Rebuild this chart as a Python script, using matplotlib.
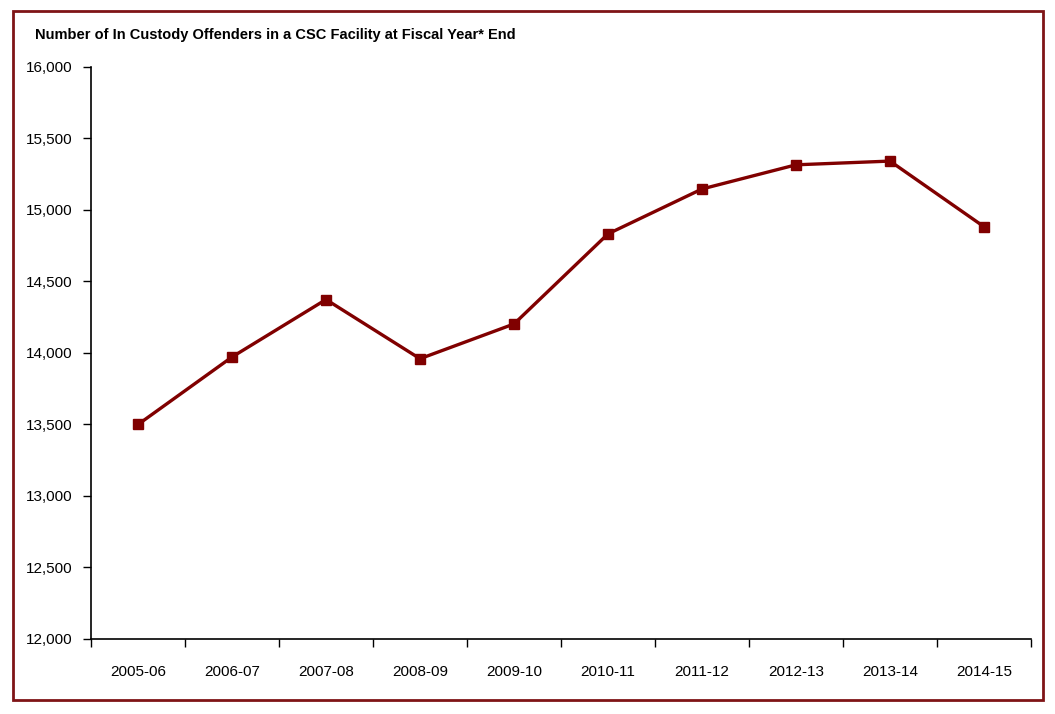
import matplotlib
matplotlib.use("Agg")
import matplotlib.pyplot as plt
from matplotlib.patches import Rectangle
from matplotlib.ticker import FuncFormatter, FixedLocator

plt.rcParams["font.family"] = ["Liberation Sans Narrow", "Liberation Sans", "DejaVu Sans"]

years = ["2005-06", "2006-07", "2007-08", "2008-09", "2009-10",
         "2010-11", "2011-12", "2012-13", "2013-14", "2014-15"]
offenders = [13500, 13972, 14374, 13960, 14203, 14833, 15147, 15316, 15342, 14883]
title = "Number of In Custody Offenders in a CSC Facility at Fiscal Year* End"

red = "#800000"

fig = plt.figure(figsize=(10.55, 7.14), dpi=100)
fig.patches.append(Rectangle((13/1055, 1-700/714), 1030/1055, 689/714,
                             transform=fig.transFigure, fill=False,
                             edgecolor="#7f1416", linewidth=2))
ax = fig.add_axes([91/1055, 1-639/714, 940/1055, 572/714])

x = list(range(len(years)))
ax.plot(x, offenders, color=red, linewidth=2.4, marker="s", markersize=7,
        markerfacecolor=red, markeredgecolor=red)

ax.set_xlim(-0.5, len(years) - 0.5)
ax.set_ylim(12000, 16000)
ax.set_yticks(range(12000, 16001, 500))
ax.yaxis.set_major_formatter(FuncFormatter(lambda v, p: f"{int(v):,}"))
ax.tick_params(axis="y", direction="out", length=6, width=1, labelsize=11, pad=7)

ax.set_xticks(x)
ax.set_xticklabels(years)
ax.tick_params(axis="x", which="major", length=0, labelsize=11, pad=19)
ax.xaxis.set_minor_locator(FixedLocator([i - 0.5 for i in range(len(years) + 1)]))
ax.tick_params(axis="x", which="minor", direction="out", length=6, width=1)

for s in ["top", "right"]:
    ax.spines[s].set_visible(False)
for s in ["left", "bottom"]:
    ax.spines[s].set_linewidth(1.2)

fig.text(35/1055, 1-35/714, title, fontsize=10.5, fontweight="bold", va="center", ha="left")

fig.savefig("out.png", dpi=100)
